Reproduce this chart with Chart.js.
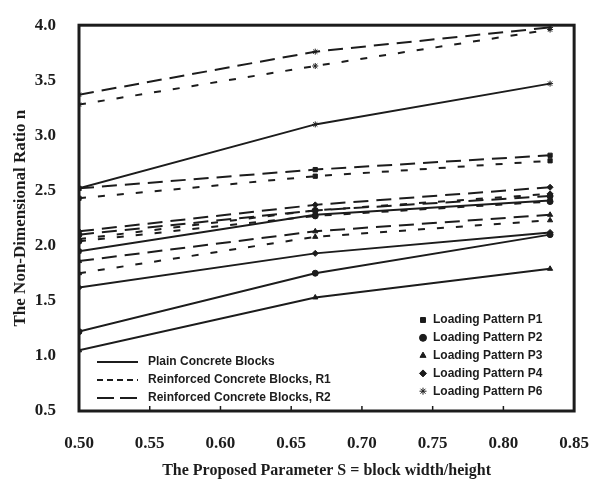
<!DOCTYPE html>
<html>
<head>
<meta charset="utf-8">
<script src="https://cdn.jsdelivr.net/npm/chart.js@4.4.1/dist/chart.umd.min.js"></script>
<style>
  html, body { margin: 0; padding: 0; background: #fff; }
</style>
</head>
<body>
<canvas id="myChart" width="603" height="480"></canvas>
<script>
// S values where the curves were computed
var sValues = [0.5, 0.667, 0.833];

// tick labels
var xTicks = [0.50, 0.55, 0.60, 0.65, 0.70, 0.75, 0.80, 0.85];
var yTicks = [0.5, 1.0, 1.5, 2.0, 2.5, 3.0, 3.5, 4.0];

// Plain concrete blocks
var plainP1 = [1.95, 2.28, 2.41];
var plainP2 = [1.22, 1.75, 2.10];
var plainP3 = [1.05, 1.53, 1.79];
var plainP4 = [1.62, 1.93, 2.12];
var plainP6 = [2.52, 3.10, 3.47];

// Reinforced concrete blocks, R1
var r1P1 = [2.43, 2.63, 2.77];
var r1P2 = [2.04, 2.27, 2.40];
var r1P3 = [1.75, 2.08, 2.23];
var r1P4 = [2.06, 2.32, 2.47];
var r1P6 = [3.28, 3.63, 3.96];

// Reinforced concrete blocks, R2
var r2P1 = [2.52, 2.69, 2.82];
var r2P2 = [2.10, 2.32, 2.45];
var r2P3 = [1.86, 2.13, 2.28];
var r2P4 = [2.13, 2.37, 2.53];
var r2P6 = [3.37, 3.76, 3.98];

var ink = '#1c1c1c';
var dashes = { plain: [], r1: [7, 12], r2: [15, 8] };
var markers = { P1: 'rect', P2: 'circle', P3: 'triangle', P4: 'rectRot', P6: 'star' };

function makeSet(label, values, family, pattern) {
    return {
        label: label,
        data: values.map(function (v, i) { return { x: sValues[i], y: v }; }),
        borderColor: ink,
        backgroundColor: ink,
        borderWidth: 2,
        borderDash: dashes[family],
        pointStyle: markers[pattern],
        pointRadius: 3,
        pointBorderWidth: 1,
        tension: 0
    };
}

var datasets = [
    makeSet('Plain P1', plainP1, 'plain', 'P1'),
    makeSet('Plain P2', plainP2, 'plain', 'P2'),
    makeSet('Plain P3', plainP3, 'plain', 'P3'),
    makeSet('Plain P4', plainP4, 'plain', 'P4'),
    makeSet('Plain P6', plainP6, 'plain', 'P6'),
    makeSet('R1 P1', r1P1, 'r1', 'P1'),
    makeSet('R1 P2', r1P2, 'r1', 'P2'),
    makeSet('R1 P3', r1P3, 'r1', 'P3'),
    makeSet('R1 P4', r1P4, 'r1', 'P4'),
    makeSet('R1 P6', r1P6, 'r1', 'P6'),
    makeSet('R2 P1', r2P1, 'r2', 'P1'),
    makeSet('R2 P2', r2P2, 'r2', 'P2'),
    makeSet('R2 P3', r2P3, 'r2', 'P3'),
    makeSet('R2 P4', r2P4, 'r2', 'P4'),
    makeSet('R2 P6', r2P6, 'r2', 'P6')
];

var lineLegend = [
    { text: 'Plain Concrete Blocks', dash: dashes.plain },
    { text: 'Reinforced Concrete Blocks, R1', dash: [6, 4] },
    { text: 'Reinforced Concrete Blocks, R2', dash: [17, 6] }
];
var markerLegend = ['P1', 'P2', 'P3', 'P4', 'P6'];

// frame, inward ticks and the two legends
var framePlugin = {
    id: 'frame',
    afterDraw: function (chart) {
        var ctx = chart.ctx, a = chart.chartArea;
        var xs = chart.scales.x;
        ctx.save();
        ctx.strokeStyle = ink;
        ctx.lineWidth = 3;
        ctx.setLineDash([]);
        ctx.strokeRect(a.left, a.top, a.right - a.left, a.bottom - a.top);
        ctx.lineWidth = 1.5;
        xTicks.forEach(function (t) {
            var px = xs.getPixelForValue(t);
            ctx.beginPath();
            ctx.moveTo(px, a.bottom);
            ctx.lineTo(px, a.bottom - 5);
            ctx.stroke();
        });

        // line style legend
        ctx.font = 'bold 12px "Liberation Sans", Arial, sans-serif';
        ctx.fillStyle = ink;
        ctx.textBaseline = 'middle';
        lineLegend.forEach(function (item, i) {
            var y = 362 + i * 18;
            ctx.lineWidth = 2;
            ctx.setLineDash(item.dash);
            ctx.beginPath();
            ctx.moveTo(97, y);
            ctx.lineTo(138, y);
            ctx.stroke();
            ctx.setLineDash([]);
            ctx.fillText(item.text, 148, y);
        });

        // marker legend (drawPoint fills/strokes the marker itself)
        ctx.lineWidth = 1;
        markerLegend.forEach(function (p, i) {
            var y = 320 + i * 17.8;
            Chart.helpers.drawPoint(ctx, { pointStyle: markers[p], radius: 3.5, borderWidth: 1.2 }, 423, y);
            ctx.fillText('Loading Pattern ' + p, 433, y);
        });
        ctx.restore();
    }
};

new Chart(document.getElementById('myChart').getContext('2d'), {
    type: 'line',
    data: { datasets: datasets },
    plugins: [framePlugin],
    options: {
        responsive: false,
        animation: false,
        layout: { padding: { top: 15, right: 16, left: 0, bottom: 0 } },
        plugins: { legend: { display: false }, tooltip: { enabled: false } },
        scales: {
            x: {
                type: 'linear',
                min: 0.5,
                max: 0.85,
                afterFit: function (scale) { scale.height = 69; },
                afterBuildTicks: function (scale) {
                    scale.ticks = xTicks.map(function (v) { return { value: v }; });
                },
                grid: { display: false },
                border: { display: false },
                ticks: {
                    padding: 14,
                    color: ink,
                    font: { family: '"Liberation Serif", "Times New Roman", serif', size: 17, weight: 'bold' },
                    callback: function (v) { return Number(v).toFixed(2); }
                },
                title: {
                    display: true,
                    text: 'The Proposed Parameter S = block width/height',
                    color: ink,
                    padding: { top: 0, bottom: 0 },
                    font: { family: '"Liberation Serif", "Times New Roman", serif', size: 16, weight: 'bold' }
                }
            },
            y: {
                min: 0.5,
                max: 4.0,
                afterFit: function (scale) { scale.width = 79; },
                afterBuildTicks: function (scale) {
                    scale.ticks = yTicks.map(function (v) { return { value: v }; });
                },
                grid: { display: false },
                border: { display: false },
                ticks: {
                    padding: 15,
                    color: ink,
                    font: { family: '"Liberation Serif", "Times New Roman", serif', size: 17, weight: 'bold' },
                    callback: function (v) { return Number(v).toFixed(1); }
                },
                title: {
                    display: true,
                    text: 'The Non-Dimensional Ratio n',
                    color: ink,
                    padding: { top: 10, bottom: 0 },
                    font: { family: '"Liberation Serif", "Times New Roman", serif', size: 17, weight: 'bold' }
                }
            }
        }
    }
});
</script>
</body>
</html>
